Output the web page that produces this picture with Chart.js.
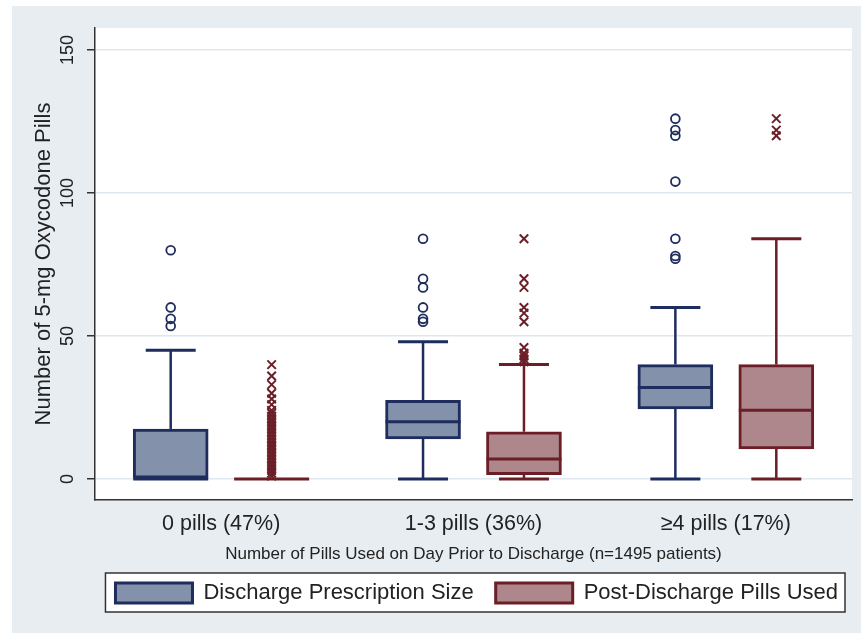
<!DOCTYPE html>
<html lang="en">
<head>
  <meta charset="UTF-8">
  <title>Oxycodone pills box plot</title>
  <script src="https://cdn.jsdelivr.net/npm/chart.js@4.4.1/dist/chart.umd.min.js"></script>
  <style>
    html, body { margin: 0; padding: 0; background: #fff; }
  </style>
</head>
<body>
  <canvas id="myChart" width="861" height="633"></canvas>
  <script>
    // x categories and axis text
    const categories = ['0 pills (47%)', '1-3 pills (36%)', '\u22654 pills (17%)'];
    const seriesNames = ['Discharge Prescription Size', 'Post-Discharge Pills Used'];
    const yTicks = [0, 50, 100, 150];
    const xTitle = 'Number of Pills Used on Day Prior to Discharge (n=1495 patients)';
    const yTitle = 'Number of 5-mg Oxycodone Pills';

    // Discharge prescription size (blue)
    const rxLow = [0, 0, 0];
    const rxQ1 = [0, 14, 24.5];
    const rxMedian = [0, 20, 32];
    const rxQ3 = [17.5, 27.5, 40];
    const rxHigh = [45, 48, 60];
    const rxOutliers = [
      [53.5, 56, 60, 80],
      [55, 56, 60, 67, 70, 84],
      [77, 78, 84, 104, 120, 122, 126]
    ];

    // Post-discharge pills used (red)
    const usedLow = [0, 0, 0];
    const usedQ1 = [0, 1.5, 10.5];
    const usedMedian = [0, 7, 24];
    const usedQ3 = [0, 16.5, 40];
    const usedHigh = [0, 40, 84];
    const usedOutliers = [
      [1, 2, 3, 4, 5, 6, 7, 8, 9, 10, 11, 12, 13, 14, 15, 16, 17, 18, 19, 20, 21, 22, 23, 24, 26, 28, 30, 33, 36, 40],
      [41, 42, 43, 44, 46, 55, 58, 60, 67, 70, 84],
      [120, 122, 126]
    ];

    const BLUE_FILL = '#8391aa';
    const BLUE_LINE = '#1e2d5e';
    const RED_FILL = '#ad878c';
    const RED_LINE = '#6c1e27';
    const AXIS = '#333';
    const GRID = '#dfe7ee';
    const PANEL = '#e8edf1';
    const SHIFT = 0.2; // half the distance between the two boxes of a group

    // stats used by the whisker plugin, one entry per box dataset
    const boxSeries = [
      { lo: rxLow, q1: rxQ1, med: rxMedian, q3: rxQ3, hi: rxHigh, line: BLUE_LINE },
      { lo: usedLow, q1: usedQ1, med: usedMedian, q3: usedQ3, hi: usedHigh, line: RED_LINE }
    ];

    const boxPoints = (q1, q3, shift) => q1.map((v, i) => ({ x: i + shift, y: [v, q3[i]] }));
    const outlierPoints = (lists, shift) =>
      lists.flatMap((vals, i) => vals.map(v => ({ x: i + shift, y: v })));

    const background = {
      id: 'background',
      beforeDraw(chart) {
        const { ctx, chartArea: a } = chart;
        ctx.save();
        ctx.fillStyle = '#fff';
        ctx.fillRect(0, 0, chart.width, chart.height);
        ctx.fillStyle = PANEL;
        ctx.fillRect(12, 6, chart.width - 12, chart.height - 6);
        ctx.fillStyle = '#fff';
        ctx.fillRect(a.left, a.top, a.right - a.left, a.bottom - a.top);
        // frame round the legend
        const hb = chart.legend && chart.legend.legendHitBoxes;
        if (hb && hb.length) {
          const first = hb[0], last = hb[hb.length - 1];
          const l = first.left - 10, r = last.left + last.width + 7;
          const t = first.top - 9, b = first.top + first.height + 8;
          ctx.fillRect(l, t, r - l, b - t);
          ctx.strokeStyle = AXIS;
          ctx.lineWidth = 1.5;
          ctx.strokeRect(l, t, r - l, b - t);
        }
        ctx.restore();
      }
    };

    const whiskers = {
      id: 'whiskers',
      afterDatasetsDraw(chart) {
        const { ctx } = chart;
        const y = chart.scales.y;
        boxSeries.forEach((s, d) => {
          chart.getDatasetMeta(d).data.forEach((bar, i) => {
            const cx = bar.x, half = bar.width / 2, cap = bar.width / 3;
            ctx.save();
            ctx.strokeStyle = s.line;
            ctx.lineWidth = 2.5;
            ctx.beginPath();
            ctx.moveTo(cx, y.getPixelForValue(s.q3[i]));
            ctx.lineTo(cx, y.getPixelForValue(s.hi[i]));
            ctx.moveTo(cx, y.getPixelForValue(s.q1[i]));
            ctx.lineTo(cx, y.getPixelForValue(s.lo[i]));
            ctx.stroke();
            ctx.lineWidth = 3;
            ctx.beginPath();
            ctx.moveTo(cx - cap, y.getPixelForValue(s.hi[i]));
            ctx.lineTo(cx + cap, y.getPixelForValue(s.hi[i]));
            ctx.moveTo(cx - cap, y.getPixelForValue(s.lo[i]));
            ctx.lineTo(cx + cap, y.getPixelForValue(s.lo[i]));
            ctx.moveTo(cx - half, y.getPixelForValue(s.med[i]));
            ctx.lineTo(cx + half, y.getPixelForValue(s.med[i]));
            ctx.stroke();
            ctx.restore();
          });
        });
      }
    };

    Chart.defaults.font.family = "'Liberation Sans', Arial, sans-serif";
    Chart.defaults.color = '#222';

    const ctx = document.getElementById('myChart').getContext('2d');
    const myChart = new Chart(ctx, {
      type: 'bar',
      data: {
        datasets: [
          {
            label: seriesNames[0],
            data: boxPoints(rxQ1, rxQ3, -SHIFT),
            backgroundColor: BLUE_FILL,
            borderColor: BLUE_LINE,
            borderWidth: 3,
            borderSkipped: false,
            grouped: false,
            barThickness: 75
          },
          {
            label: seriesNames[1],
            data: boxPoints(usedQ1, usedQ3, SHIFT),
            backgroundColor: RED_FILL,
            borderColor: RED_LINE,
            borderWidth: 3,
            borderSkipped: false,
            grouped: false,
            barThickness: 75
          },
          {
            type: 'scatter',
            label: 'rx outliers',
            data: outlierPoints(rxOutliers, -SHIFT),
            pointStyle: 'circle',
            pointRadius: 4.4,
            borderWidth: 1.8,
            borderColor: BLUE_LINE,
            backgroundColor: 'rgba(0,0,0,0)'
          },
          {
            type: 'scatter',
            label: 'used outliers',
            data: outlierPoints(usedOutliers, SHIFT),
            pointStyle: 'crossRot',
            pointRadius: 6,
            borderWidth: 2,
            borderColor: RED_LINE,
            backgroundColor: RED_LINE
          }
        ]
      },
      options: {
        responsive: false,
        animation: false,
        events: [],
        layout: { padding: { top: 28, right: 1, bottom: 19, left: 0 } },
        plugins: {
          tooltip: { enabled: false },
          legend: {
            position: 'bottom',
            align: 'end',
            labels: {
              boxWidth: 77,
              boxHeight: 20,
              padding: 22,
              font: { size: 22 },
              color: '#222',
              filter: item => item.datasetIndex < 2
            }
          }
        },
        scales: {
          x: {
            type: 'linear',
            min: -0.5,
            max: 2.5,
            offset: false,
            afterBuildTicks: s => { s.ticks = categories.map((c, i) => ({ value: i })); },
            grid: { display: false, drawTicks: false },
            border: { display: true, color: AXIS, width: 1.5 },
            ticks: {
              callback: v => categories[v],
              font: { size: 21.5 }, color: '#222', padding: 11, maxRotation: 0, autoSkip: false
            },
            title: { display: true, text: xTitle, font: { size: 17 }, color: '#222', padding: { top: 0, bottom: -4.3 } },
            afterFit: s => { s.height = 60; }
          },
          y: {
            min: -7.34,
            max: 157.7,
            afterBuildTicks: s => { s.ticks = yTicks.map(v => ({ value: v })); },
            grid: { color: GRID, lineWidth: 1.5, tickColor: AXIS, tickLength: 8, tickWidth: 1.5 },
            border: { color: AXIS, width: 1.5 },
            ticks: { minRotation: 90, maxRotation: 90, crossAlign: 'center', padding: 4, font: { size: 18 }, color: '#222' },
            title: { display: true, text: yTitle, font: { size: 22 }, color: '#222', padding: { top: 31, bottom: 0 } },
            afterFit: s => { s.width = 95; }
          },
          yr: {
            type: 'linear',
            position: 'right',
            grid: { display: false },
            border: { display: false },
            ticks: { display: false },
            afterFit: s => { s.width = 8; }
          }
        }
      },
      plugins: [background, whiskers]
    });
  </script>
</body>
</html>
